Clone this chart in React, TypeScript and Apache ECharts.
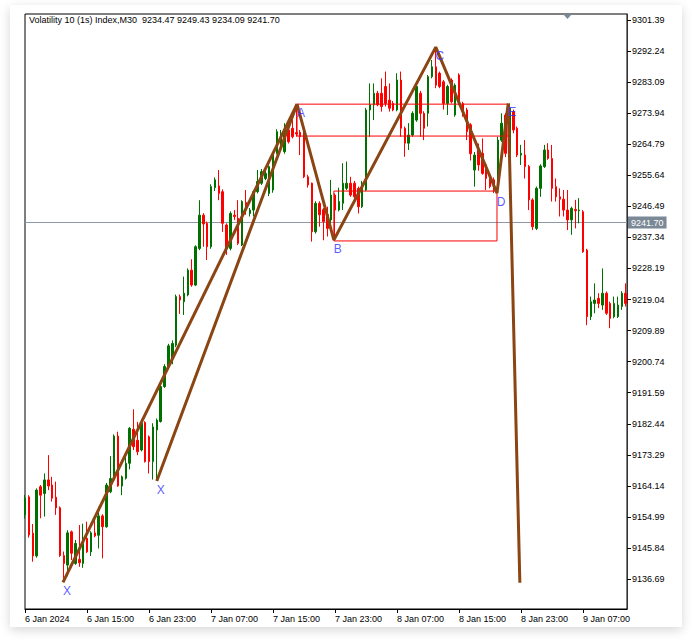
import React, { useEffect, useRef } from "react";
import * as echarts from "echarts";

const titleText = "Volatility 10 (1s) Index,M30  9234.47 9249.43 9234.09 9241.70";
const lastPrice = 9241.7;
const priceMin = 9127.87;
const priceMax = 9303.16;
const barMin = 0;
const barMax = 155.35;

const priceTicks = [
  9136.69, 9145.84, 9154.99, 9164.14, 9173.29, 9182.44, 9191.59, 9200.74, 9209.89, 9219.04,
  9228.19, 9237.34, 9246.49, 9255.64, 9264.79, 9273.94, 9283.09, 9292.24, 9301.39,
];

const timeTickBars = [0, 16, 32, 48, 64, 80, 96, 112, 128, 144];
const timeTickLabels = [
  "6 Jan 2024", "6 Jan 15:00", "6 Jan 23:00", "7 Jan 07:00", "7 Jan 15:00",
  "7 Jan 23:00", "8 Jan 07:00", "8 Jan 15:00", "8 Jan 23:00", "9 Jan 07:00",
];

// [open, high, low, close] per M30 bar
const candles: number[][] = [
  [9155.6, 9161.5, 9154.5, 9160.5], [9160.9, 9161.4, 9148.9, 9149.7], [9150.2, 9152.9, 9141.8, 9143.5],
  [9143.5, 9163.4, 9143.0, 9162.9], [9163.9, 9164.4, 9154.6, 9161.4], [9161.9, 9167.8, 9155.1, 9165.9],
  [9165.9, 9173.2, 9162.9, 9164.1], [9164.4, 9166.8, 9159.5, 9160.5], [9160.8, 9165.4, 9155.6, 9157.7],
  [9157.7, 9158.1, 9143.2, 9143.6], [9143.6, 9144.8, 9136.4, 9141.3], [9140.8, 9151.1, 9137.5, 9150.3],
  [9150.6, 9151.0, 9142.3, 9144.3], [9141.3, 9148.2, 9140.9, 9147.2], [9142.5, 9152.6, 9140.3, 9141.5],
  [9141.3, 9153.0, 9140.0, 9148.4], [9148.7, 9153.6, 9144.4, 9144.7], [9144.7, 9150.8, 9143.5, 9150.3],
  [9150.3, 9155.3, 9149.0, 9149.4], [9149.6, 9158.0, 9145.7, 9155.3], [9155.3, 9155.8, 9142.8, 9152.1],
  [9152.1, 9165.0, 9151.8, 9164.4], [9162.4, 9172.9, 9162.0, 9166.3], [9165.9, 9179.3, 9165.5, 9178.8],
  [9178.8, 9180.1, 9163.9, 9164.1], [9164.1, 9167.2, 9161.4, 9166.8], [9166.4, 9172.9, 9166.0, 9170.8],
  [9170.8, 9181.5, 9169.0, 9181.1], [9180.8, 9186.7, 9174.7, 9175.7], [9177.6, 9183.0, 9173.2, 9174.2],
  [9174.7, 9183.0, 9174.3, 9182.6], [9182.8, 9183.2, 9171.0, 9171.3], [9178.6, 9179.0, 9167.8, 9171.3],
  [9171.3, 9182.6, 9166.0, 9181.5], [9180.6, 9184.0, 9165.9, 9183.5], [9183.1, 9195.3, 9182.8, 9193.4],
  [9193.4, 9200.0, 9193.0, 9199.3], [9199.3, 9206.0, 9198.5, 9205.4], [9201.7, 9207.0, 9200.0, 9206.1],
  [9205.6, 9220.5, 9205.0, 9219.9], [9219.9, 9220.5, 9214.8, 9218.9], [9218.4, 9225.8, 9214.5, 9220.9],
  [9220.4, 9228.2, 9220.0, 9227.7], [9227.7, 9230.9, 9222.8, 9223.3], [9223.3, 9235.0, 9223.0, 9234.6],
  [9234.1, 9248.3, 9233.6, 9243.9], [9243.9, 9244.5, 9234.6, 9241.3], [9241.5, 9242.0, 9230.7, 9234.6],
  [9234.6, 9253.0, 9234.0, 9252.3], [9252.0, 9255.0, 9251.0, 9254.3], [9252.5, 9257.2, 9248.3, 9250.3],
  [9250.8, 9251.5, 9239.0, 9241.5], [9241.0, 9241.5, 9232.2, 9234.1], [9234.1, 9245.0, 9233.5, 9244.4],
  [9243.9, 9245.4, 9242.5, 9243.5], [9243.0, 9248.3, 9235.1, 9235.6], [9235.1, 9248.3, 9234.8, 9247.9],
  [9247.6, 9251.3, 9244.0, 9245.4], [9244.4, 9246.0, 9243.5, 9245.4], [9245.4, 9251.2, 9243.5, 9250.8],
  [9250.8, 9257.2, 9250.3, 9253.8], [9253.3, 9257.5, 9252.8, 9256.7], [9254.7, 9257.0, 9254.2, 9256.2],
  [9250.3, 9258.6, 9249.5, 9258.2], [9251.3, 9262.5, 9250.5, 9262.1], [9262.1, 9269.2, 9261.8, 9268.5],
  [9264.6, 9269.0, 9263.0, 9268.0], [9262.6, 9271.0, 9262.0, 9269.0], [9269.0, 9272.0, 9265.0, 9265.5],
  [9269.5, 9274.4, 9266.5, 9267.0], [9268.2, 9276.6, 9267.0, 9267.8], [9268.3, 9269.0, 9261.6, 9267.0],
  [9268.5, 9269.5, 9254.8, 9255.2], [9255.2, 9255.8, 9252.0, 9252.8], [9253.3, 9253.5, 9236.1, 9239.0],
  [9239.0, 9248.0, 9238.5, 9247.4], [9247.4, 9248.0, 9240.5, 9244.0], [9245.5, 9246.0, 9236.5, 9242.0],
  [9244.0, 9246.4, 9237.6, 9240.0], [9242.5, 9254.3, 9240.5, 9249.8], [9249.8, 9250.3, 9236.6, 9245.4],
  [9245.4, 9252.0, 9245.0, 9247.9], [9247.4, 9259.2, 9245.4, 9253.3], [9251.8, 9259.7, 9251.3, 9253.3],
  [9253.3, 9255.2, 9249.3, 9249.8], [9253.3, 9254.0, 9248.8, 9249.3], [9251.8, 9252.3, 9244.4, 9246.4],
  [9246.4, 9254.0, 9246.0, 9253.3], [9251.3, 9275.5, 9251.0, 9274.9], [9274.9, 9282.7, 9267.0, 9276.4],
  [9276.4, 9282.7, 9271.9, 9279.8], [9279.8, 9280.5, 9276.0, 9276.4], [9279.8, 9284.2, 9274.4, 9275.9],
  [9281.8, 9286.2, 9275.9, 9276.8], [9277.8, 9282.7, 9274.4, 9275.4], [9276.8, 9277.5, 9274.5, 9274.9],
  [9274.9, 9285.7, 9274.5, 9283.7], [9283.7, 9286.2, 9267.0, 9269.5], [9269.5, 9270.0, 9261.1, 9265.1],
  [9265.1, 9271.0, 9263.1, 9267.5], [9267.5, 9274.5, 9267.0, 9273.9], [9271.9, 9282.7, 9271.4, 9281.8],
  [9279.8, 9280.5, 9267.0, 9273.9], [9273.9, 9274.5, 9266.0, 9269.5], [9273.9, 9285.2, 9270.0, 9284.7],
  [9284.7, 9289.6, 9284.2, 9287.6], [9287.6, 9293.3, 9281.3, 9282.2], [9285.7, 9286.2, 9281.3, 9281.8],
  [9283.2, 9283.7, 9275.0, 9276.8], [9276.8, 9282.3, 9273.4, 9281.8], [9283.7, 9284.2, 9276.8, 9277.3],
  [9273.4, 9282.7, 9272.9, 9282.2], [9285.2, 9285.7, 9276.3, 9276.8], [9276.8, 9277.3, 9272.9, 9274.5],
  [9274.9, 9275.5, 9266.0, 9268.5], [9270.5, 9271.0, 9260.0, 9262.0], [9257.2, 9262.5, 9252.3, 9261.6],
  [9263.1, 9265.0, 9257.0, 9258.7], [9262.1, 9266.5, 9255.8, 9256.2], [9258.7, 9259.2, 9251.3, 9254.7],
  [9254.7, 9255.5, 9251.8, 9252.3], [9254.3, 9255.0, 9250.4, 9251.3], [9251.8, 9267.0, 9251.3, 9266.0],
  [9266.0, 9273.9, 9265.5, 9271.0], [9273.4, 9274.0, 9261.0, 9262.1], [9262.1, 9276.8, 9261.5, 9275.4],
  [9274.4, 9275.0, 9268.0, 9269.0], [9269.5, 9270.0, 9261.0, 9261.6], [9261.6, 9264.6, 9258.7, 9262.1],
  [9261.6, 9266.0, 9254.7, 9258.2], [9258.2, 9258.7, 9245.4, 9248.4], [9248.4, 9248.9, 9239.5, 9240.5],
  [9240.0, 9252.3, 9239.5, 9251.8], [9251.8, 9258.9, 9249.3, 9258.4], [9258.2, 9264.6, 9257.8, 9263.1],
  [9263.1, 9265.1, 9260.2, 9260.6], [9260.6, 9264.6, 9247.9, 9251.8], [9252.3, 9254.7, 9247.9, 9249.3],
  [9249.3, 9251.8, 9243.5, 9248.6], [9248.6, 9251.3, 9243.5, 9245.4], [9245.4, 9251.3, 9239.5, 9242.5],
  [9242.5, 9246.4, 9238.1, 9245.9], [9245.6, 9248.4, 9240.0, 9245.2], [9245.2, 9248.9, 9241.5, 9245.4],
  [9244.9, 9245.4, 9232.8, 9233.1], [9233.6, 9234.0, 9211.5, 9214.0], [9214.0, 9219.9, 9213.0, 9218.4],
  [9217.9, 9223.8, 9215.0, 9218.9], [9219.4, 9220.9, 9216.5, 9217.9], [9217.4, 9228.2, 9216.0, 9220.9],
  [9220.9, 9221.4, 9214.5, 9215.0], [9217.9, 9218.4, 9210.6, 9213.5], [9214.0, 9219.9, 9213.5, 9217.9],
  [9214.0, 9219.9, 9213.6, 9217.4], [9217.0, 9221.5, 9216.0, 9220.9], [9220.9, 9223.8, 9217.0, 9217.9],
];

// pattern vertices [bar, price]
const zigzagPoints = [
  [34.0, 9165.6], [70.2, 9276.6], [79.7, 9236.6], [106.0, 9293.4],
  [121.8, 9250.4], [124.7, 9276.8], [127.7, 9135.6],
];
const legPoints = [[9.8, 9135.7], [70.2, 9276.6]];
const pointNames = ["X", "X", "A", "B", "C", "D", "E"];
const pointCoords = [
  [9.8, 9135.7], [34.0, 9165.6], [70.2, 9276.6], [79.7, 9236.6],
  [106.0, 9293.4], [121.8, 9250.4], [124.7, 9276.8],
];
// rectangles: [left bar, top price], [right bar, bottom price]
const boxUpper = [[70.2, 9276.6], [124.7, 9267.2]];
const boxLower = [[79.7, 9251.0], [121.8, 9236.3]];

const FONT = '"Liberation Sans", Arial, sans-serif';
const UP = "#007000";
const DOWN = "#ff0000";
const BROWN = "#8b4513";
const LABEL_BLUE = "#3030ff";

function outline(box: number[][]) {
  const [a, b] = box;
  return [[a[0], a[1]], [b[0], a[1]], [b[0], b[1]], [a[0], b[1]], [a[0], a[1]]];
}

export default function App() {
  const ref = useRef<HTMLDivElement>(null);

  useEffect(() => {
    if (!ref.current) return;
    const chart = echarts.init(ref.current, null, { renderer: "svg" });

    const candleData = candles.map((c, i) => [i, c[0], c[3], c[2], c[1]]);

    const boxSeries = [boxUpper, boxLower].map((box) => ({
      type: "line",
      data: outline(box),
      symbol: "none",
      z: 4,
      lineStyle: { color: "#ff0000", width: 1 },
    }));

    chart.setOption({
      animation: false,
      backgroundColor: "transparent",
      textStyle: { fontFamily: FONT },
      grid: {
        left: 25,
        top: 14,
        width: 602,
        height: 595,
        show: true,
        borderColor: "#000",
        borderWidth: 1,
        backgroundColor: "transparent",
      },
      xAxis: {
        type: "value",
        min: barMin,
        max: barMax,
        splitLine: { show: false },
        axisLine: { show: true, onZero: false, lineStyle: { color: "#000", width: 1 } },
        axisTick: { show: true, length: 4, customValues: timeTickBars, lineStyle: { color: "#000" } },
        axisLabel: {
          show: true,
          customValues: timeTickBars,
          formatter: (v: number) => {
            const k = timeTickBars.indexOf(Math.round(v));
            return k >= 0 ? timeTickLabels[k] : "";
          },
          align: "left",
          margin: 5,
          color: "#000",
          fontSize: 9,
          fontFamily: FONT,
        },
      },
      yAxis: {
        type: "value",
        position: "right",
        min: priceMin,
        max: priceMax,
        splitLine: { show: false },
        axisLine: { show: true, onZero: false, lineStyle: { color: "#333", width: 1 } },
        axisTick: { show: true, length: 4, customValues: priceTicks, lineStyle: { color: "#000" } },
        axisLabel: {
          show: true,
          customValues: priceTicks,
          formatter: (v: number) => v.toFixed(2),
          margin: 5,
          color: "#000",
          fontSize: 9,
          fontFamily: FONT,
        },
      },
      graphic: [
        {
          type: "text",
          left: 29,
          top: 15,
          style: { text: titleText, fill: "#000", fontSize: 9, fontFamily: FONT },
        },
        {
          type: "polygon",
          shape: { points: [[563, 14], [572, 14], [567.5, 19]] },
          style: { fill: "#7b8896" },
        },
      ],
      series: [
        {
          type: "candlestick",
          data: candleData,
          barWidth: 2,
          z: 2,
          itemStyle: {
            color: UP,
            color0: DOWN,
            borderColor: UP,
            borderColor0: DOWN,
            borderWidth: 1,
          },
          markLine: {
            silent: true,
            symbol: "none",
            z: 1,
            lineStyle: { color: "#8d99a6", width: 1, type: "solid" },
            label: {
              show: true,
              position: "end",
              distance: 1,
              formatter: () => lastPrice.toFixed(2),
              backgroundColor: "#7b8896",
              color: "#fff",
              fontSize: 9,
              fontFamily: FONT,
              padding: [2, 3, 1, 3],
            },
            data: [{ yAxis: lastPrice }],
          },
        },
        ...boxSeries,
        {
          type: "line",
          data: legPoints,
          symbol: "none",
          z: 5,
          lineStyle: { color: BROWN, width: 3 },
        },
        {
          type: "line",
          data: zigzagPoints,
          symbol: "none",
          z: 5,
          lineStyle: { color: BROWN, width: 3 },
        },
        {
          type: "scatter",
          z: 6,
          symbolSize: 0.1,
          itemStyle: { color: "transparent" },
          data: pointNames.map((n, i) => ({ name: n, value: pointCoords[i] })),
          label: {
            show: true,
            formatter: "{b}",
            position: "inside",
            offset: [4, 9],
            color: LABEL_BLUE,
            fontSize: 12,
            fontFamily: FONT,
          },
        },
      ],
    });

    return () => chart.dispose();
  }, []);

  return (
    <div style={{ position: "fixed", left: 0, top: 0, width: 692, height: 642, background: "#fff", overflow: "hidden" }}>
      <div
        style={{
          position: "absolute",
          left: 10,
          top: 5,
          width: 672,
          height: 622,
          background: "#fff",
          boxShadow: "0 3px 10px rgba(0,0,0,0.16)",
        }}
      />
      <div ref={ref} style={{ position: "absolute", left: 0, top: 0, width: 692, height: 642 }} />
    </div>
  );
}
